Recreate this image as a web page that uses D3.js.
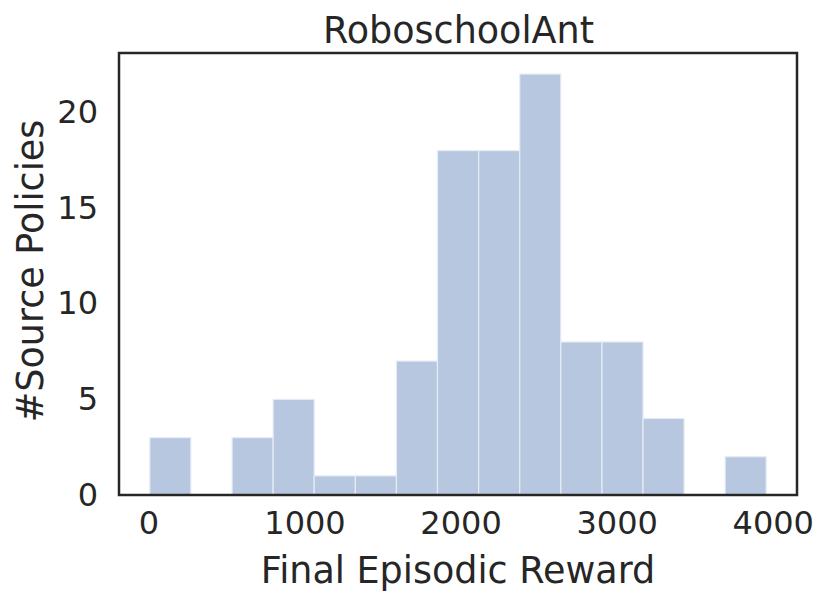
<!DOCTYPE html>
<html>
<head>
<meta charset="utf-8">
<script src="https://cdn.jsdelivr.net/npm/d3@7"></script>
<style>
  html, body { margin: 0; padding: 0; background: #fff; }
  text { font-family: "DejaVu Sans", sans-serif; fill: #262626; }
</style>
</head>
<body>
<svg id="chart" width="830" height="606"></svg>
<script>
// Histogram data
const binEdges = [9, 272, 536, 799, 1062, 1326, 1589, 1852, 2116, 2379, 2642, 2906, 3169, 3432, 3695, 3958];
const counts   = [3, 0, 3, 5, 1, 1, 7, 18, 18, 22, 8, 8, 4, 0, 2];
const xTicks = [0, 1000, 2000, 3000, 4000];
const yTicks = [0, 5, 10, 15, 20];
const title = "RoboschoolAnt";
const xLabel = "Final Episodic Reward";
const yLabel = "#Source Policies";

const bins = counts.map((c, i) => ({ x0: binEdges[i], x1: binEdges[i + 1], n: c }));

const svg = d3.select("#chart");
const L = 119, R = 797, T = 53, B = 495;

const lo = binEdges[0], hi = binEdges[binEdges.length - 1];
const pad = (hi - lo) * 0.05;
const x = d3.scaleLinear().domain([lo - pad, hi + pad]).range([L, R]);
const y = d3.scaleLinear().domain([0, d3.max(counts) * 1.05]).range([B, T]);

svg.append("g").selectAll("rect")
  .data(bins.filter(b => b.n > 0))
  .join("rect")
  .attr("x", d => x(d.x0))
  .attr("width", d => x(d.x1) - x(d.x0))
  .attr("y", d => y(d.n))
  .attr("height", d => y(0) - y(d.n))
  .attr("fill", "#b7c7e0")
  .attr("stroke", "#e6ecf5")
  .attr("stroke-width", 1.2);

// frame
svg.append("rect")
  .attr("x", L).attr("y", T).attr("width", R - L).attr("height", B - T)
  .attr("fill", "none").attr("stroke", "#262626").attr("stroke-width", 2.5);

// x axis
const xAxis = d3.axisBottom(x).tickValues(xTicks).tickSize(0).tickPadding(16).tickFormat(d3.format("d"));
const gx = svg.append("g").attr("transform", `translate(0,${B})`).call(xAxis);
gx.select(".domain").remove();
gx.selectAll("text").style("font-size", "32px").attr("fill", "#262626").attr("dy", "0.71em");

// y axis
const yAxis = d3.axisLeft(y).tickValues(yTicks).tickSize(0).tickPadding(21).tickFormat(d3.format("d"));
const gy = svg.append("g").attr("transform", `translate(${L},0)`).call(yAxis);
gy.select(".domain").remove();
gy.selectAll("text").style("font-size", "32px").attr("fill", "#262626");

// title
svg.append("text").attr("x", (L + R) / 2 + 0.5).attr("y", 43)
  .attr("text-anchor", "middle").style("font-size", "36.5px").text(title);

// x label
svg.append("text").attr("x", (L + R) / 2).attr("y", 583)
  .attr("text-anchor", "middle").style("font-size", "36.5px").text(xLabel);

// y label
svg.append("text")
  .attr("transform", `translate(43,${(T + B) / 2 - 3}) rotate(-90)`)
  .attr("text-anchor", "middle").style("font-size", "36.5px").text(yLabel);
</script>
</body>
</html>
